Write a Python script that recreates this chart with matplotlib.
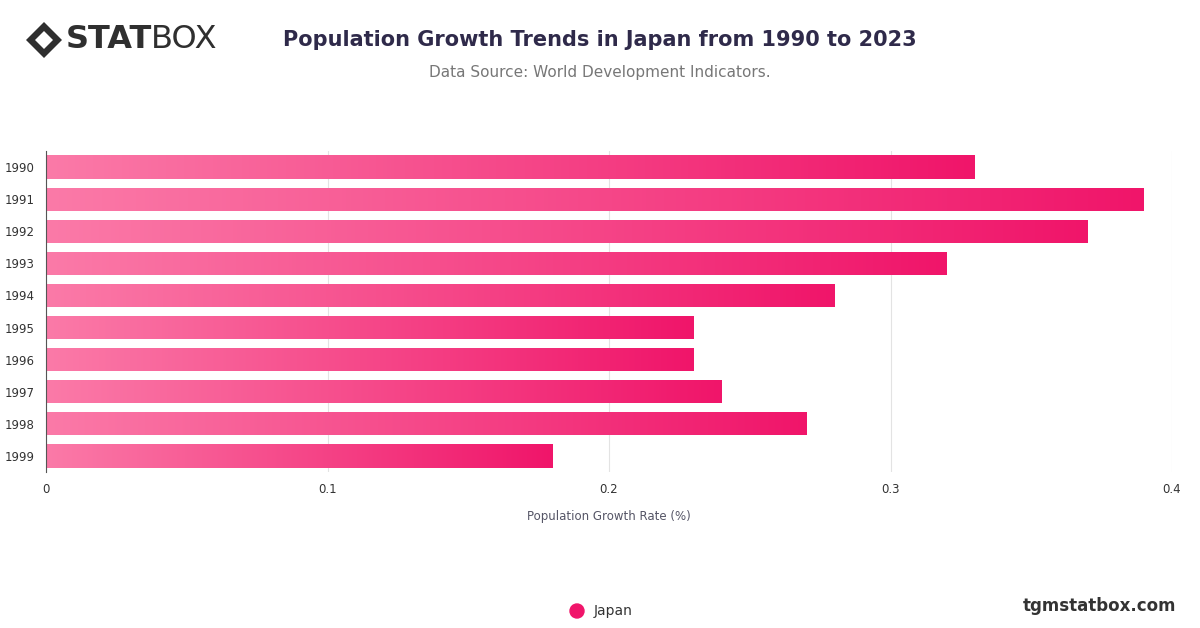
import numpy as np
import matplotlib.pyplot as plt
from matplotlib.colors import LinearSegmentedColormap
from matplotlib.patches import Polygon

years = ["1990", "1991", "1992", "1993", "1994", "1995", "1996", "1997", "1998", "1999"]
growth = [0.33, 0.39, 0.37, 0.32, 0.28, 0.23, 0.23, 0.24, 0.27, 0.18]
xticks = [0, 0.1, 0.2, 0.3, 0.4]

fig = plt.figure(figsize=(12, 6.28), dpi=100)
ax = fig.add_axes([46 / 1200, 1 - 472 / 628, 1126 / 1200, 321 / 628])

cmap = LinearSegmentedColormap.from_list("pink", ["#fb7aa8", "#f0156a"])
grad = np.linspace(0, 1, 256).reshape(1, -1)

bars = ax.barh(years, growth, height=0.72, color="none", zorder=2)
for b in bars:
    x0, y0, w, h = b.get_x(), b.get_y(), b.get_width(), b.get_height()
    im = ax.imshow(grad, cmap=cmap, aspect="auto", extent=[x0, x0 + w, y0, y0 + h], zorder=2)
    im.set_clip_path(b)

ax.set_xlim(0, 0.4)
ax.set_ylim(len(years) - 0.5, -0.5)
ax.set_xticks(xticks)
ax.set_xticklabels(["0", "0.1", "0.2", "0.3", "0.4"])
ax.grid(axis="x", color="#e3e3e3", lw=0.8, zorder=0)
ax.tick_params(length=0, labelsize=8.5, colors="#333333", pad=8)
for s in ["top", "right", "bottom"]:
    ax.spines[s].set_visible(False)
ax.spines["left"].set_color("#555555")
ax.set_xlabel("Population Growth Rate (%)", fontsize=8.5, color="#555566", labelpad=10)

fig.text(0.5, 0.937, "Population Growth Trends in Japan from 1990 to 2023", ha="center", va="center",
         fontsize=15, fontweight="bold", color="#2f2a4a")
fig.text(0.5, 0.885, "Data Source: World Development Indicators.", ha="center", va="center",
         fontsize=11, color="#777777")

# logo (pixel coords from bottom-left)
H = 628
fig.patches.append(Polygon([[26, H - 40], [44, H - 22], [62, H - 40], [44, H - 58]], closed=True,
                           transform=None, facecolor="#2f2f2f", edgecolor="none"))
fig.patches.append(Polygon([[35, H - 40], [44, H - 31], [53, H - 40], [44, H - 49]], closed=True,
                           transform=None, facecolor="white", edgecolor="none"))
fig.text(66 / 1200, 1 - 40 / 628, "STAT", fontsize=23, fontweight="black", color="#2f2f2f", va="center")
fig.text(151 / 1200, 1 - 40 / 628, "BOX", fontsize=23, color="#2f2f2f", va="center")

# legend
fig.patches.append(plt.Circle((577, H - 611), 7, transform=None, color="#f0156a"))
fig.text(594 / 1200, 1 - 611 / 628, "Japan", fontsize=10, color="#333333", va="center")
fig.text(1176 / 1200, 1 - 606 / 628, "tgmstatbox.com", fontsize=12, fontweight="bold",
         color="#333333", ha="right", va="center")

fig.savefig("out.png", dpi=100)
